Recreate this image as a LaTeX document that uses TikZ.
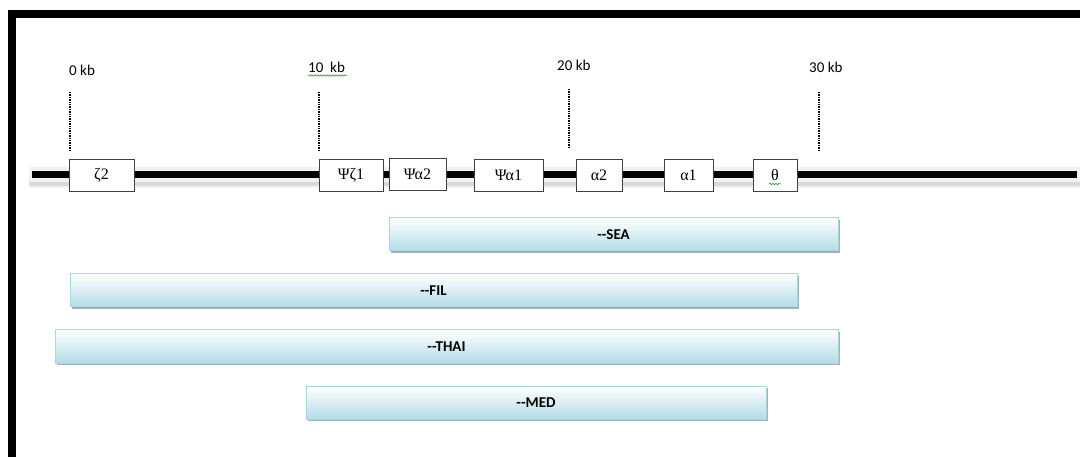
\documentclass[tikz,border=0pt]{standalone}
\usepackage{fontspec}
\setmainfont{Carlito}
\newfontfamily\greekfont{Liberation Serif}
\usetikzlibrary{decorations.pathmorphing}
\definecolor{barfill}{HTML}{B3DCE7}
\definecolor{barline}{HTML}{A6D6E2}
\definecolor{barshadow}{HTML}{9AB4BC}
\definecolor{boxline}{HTML}{404040}
\tikzset{
  genebox/.style={draw=boxline, line width=0.9pt, fill=white, inner sep=0pt,
    minimum height=32pt, font=\greekfont\fontsize{16}{18}\selectfont},
  kblabel/.style={anchor=south west, inner sep=0pt, font=\fontsize{15}{17}\selectfont},
  tick/.style={line width=2pt, dash pattern=on 1.4pt off 1pt},
  spellmark/.style={draw=green!60!black, line width=0.5pt,
    decorate, decoration={snake, amplitude=0.8pt, segment length=3pt}},
}
% one deletion bar: shadow, gradient body, centred bold label
\newcommand{\delbar}[5]{%
  \fill[barshadow] (#1+2,#3+2) rectangle (#2+2,#4+2);
  \shade[top color=white, bottom color=barfill, draw=barline, line width=1pt]
    (#1,#3) rectangle (#2,#4);
  \node[font=\bfseries\fontsize{15}{17}\selectfont, inner sep=0pt]
    (bar#5) at ({(#1+#2)/2},{(#3+#4)/2}) {{-}{-}#5};
}
\begin{document}
\begin{tikzpicture}[x=1pt, y=-1pt]
\useasboundingbox (0,0) rectangle (1080,457);
% frame
\fill[black] (8,10) rectangle (1080,18);
\fill[black] (8,10) rectangle (16,457);

% scale labels
\node[kblabel] (kb0)  at (69,76)  {0 kb};
\node[kblabel] (kb10) at (308,73) {10\ \ kb};
\node[kblabel] (kb20) at (557,71) {20 kb};
\node[kblabel] (kb30) at (809,73) {30 kb};
\draw[spellmark] (kb10.south west) ++(0,2.5) -- ++(39,0);

% scale ticks
\coordinate (t0a) at (70,92);   \coordinate (t0b) at (70,150);
\coordinate (t1a) at (319,92);  \coordinate (t1b) at (319,150);
\coordinate (t2a) at (569,89);  \coordinate (t2b) at (569,148);
\coordinate (t3a) at (819,92);  \coordinate (t3b) at (819,151);
\draw[tick] (t0a) -- (t0b);
\draw[tick] (t1a) -- (t1b);
\draw[tick] (t2a) -- (t2b);
\draw[tick] (t3a) -- (t3b);

% chromosome line with its shadow
\fill[gray!10] (29,167) rectangle (1080,188);
\fill[gray!30] (29,182) rectangle (1080,186);
\coordinate (lineL) at (32,174.5);
\coordinate (lineR) at (1077,174.5);
\draw[line width=7pt] (lineL) -- (lineR);

% genes
\node[genebox, minimum width=65pt] (z2)  at (101.5,175)   {ζ2};
\node[genebox, minimum width=64pt] (pz1) at (351,175.5)   {Ψζ1};
\node[genebox, minimum width=57pt] (pa2) at (417.5,174.5) {Ψα2};
\node[genebox, minimum width=69pt] (pa1) at (508.5,175)   {Ψα1};
\node[genebox, minimum width=46pt] (a2)  at (599,175)     {α2};
\node[genebox, minimum width=49pt] (a1)  at (688.5,175)   {α1};
\node[genebox, minimum width=44pt] (th)  at (775,175)     {θ};
\draw[spellmark] (769,184) -- (781,184);

% deletions
\delbar{389}{838}{218}{251}{SEA}
\delbar{70}{797}{274}{307}{FIL}
\delbar{55}{838}{330}{363}{THAI}
\delbar{306}{766}{386}{419}{MED}
\end{tikzpicture}
\end{document}
